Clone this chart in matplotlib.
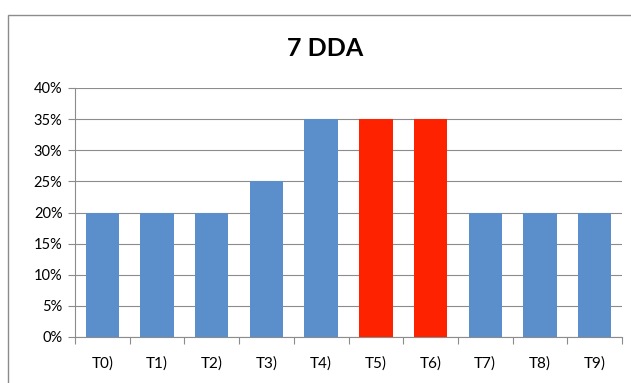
import matplotlib
matplotlib.use("Agg")
import matplotlib.pyplot as plt
from matplotlib.patches import Rectangle
from matplotlib.ticker import FixedLocator, PercentFormatter

categories = ["T0)", "T1)", "T2)", "T3)", "T4)", "T5)", "T6)", "T7)", "T8)", "T9)"]
values = [20, 20, 20, 25, 35, 35, 35, 20, 20, 20]
highlight = ["T5)", "T6)"]
title = "7 DDA"

blue = "#5B8FCB"
red = "#FF2200"
grid_col = "#8C8C8C"

plt.rcParams["font.family"] = ["Lato", "DejaVu Sans"]

fig = plt.figure(figsize=(6.31, 3.83), dpi=100)
fig.patch.set_facecolor("white")

# chart frame (left and top edges visible)
fig.patches.append(Rectangle((8 / 631, -0.2), 1.0, 1.2 - 15 / 383,
                             transform=fig.transFigure, fill=False,
                             edgecolor="#8C8C8C", linewidth=1.0))

ax = fig.add_axes([75 / 631, 1 - 337 / 383, 547 / 631, (337 - 88) / 383])
x = list(range(len(categories)))
colors = [red if c in highlight else blue for c in categories]
ax.bar(x, values, width=0.61, color=colors, zorder=3)

ax.set_xlim(-0.5, len(categories) - 0.5)
ax.set_ylim(0, 40)
ax.yaxis.set_major_locator(FixedLocator(range(0, 41, 5)))
ax.yaxis.set_major_formatter(PercentFormatter(decimals=0))
ax.set_xticks(x)
ax.set_xticklabels(categories)
ax.xaxis.set_minor_locator(FixedLocator([i + 0.5 for i in range(-1, len(categories))]))
ax.tick_params(axis="x", which="major", length=0, pad=14, labelsize=11)
ax.tick_params(axis="x", which="minor", length=5, color=grid_col, width=0.8)
ax.tick_params(axis="y", length=5, color=grid_col, width=0.8, pad=4, labelsize=10.5)

ax.grid(axis="y", color=grid_col, linewidth=0.8, zorder=0)
for s in ["top", "right"]:
    ax.spines[s].set_visible(False)
ax.spines["left"].set_color(grid_col)
ax.spines["bottom"].set_color(grid_col)
ax.spines["left"].set_linewidth(0.8)
ax.spines["bottom"].set_linewidth(0.8)

fig.text(325 / 631, 1 - 48 / 383, title, ha="center", va="center",
         fontsize=18, fontweight="bold")

fig.savefig("out.png", dpi=100)
